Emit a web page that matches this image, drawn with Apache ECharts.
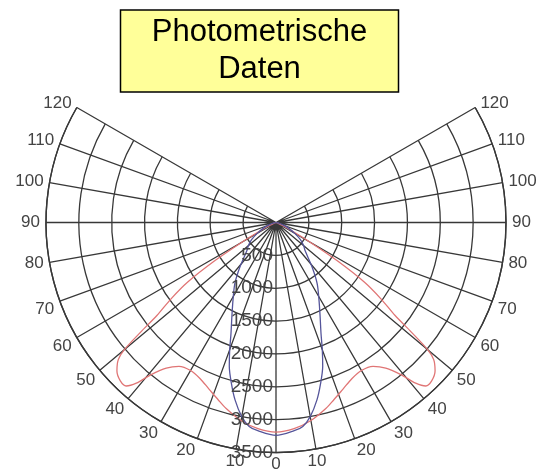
<!DOCTYPE html>
<html>
<head>
<meta charset="utf-8">
<script src="https://cdn.jsdelivr.net/npm/echarts@6/dist/echarts.min.js"></script>
<style>
html, body { margin: 0; padding: 0; background: #fff; }
#main { width: 539px; height: 470px; }
</style>
</head>
<body>
<div id="main"></div>
<script>
// Lichtstärke in cd, Winkel von der Senkrechten nach unten (nur eine Seite, wird gespiegelt)
var redAngles = [0, 5, 10, 15, 18, 22, 26, 30, 34, 37, 39.5, 41, 42.5, 44.5, 47, 49, 50, 51, 52, 54, 56, 58, 60, 62, 65, 70, 80, 90];
var redValues = [3190, 3150, 3060, 2930, 2840, 2730, 2640, 2600, 2640, 2775, 3010, 3240, 3375, 3380, 3310, 3180, 3020, 2650, 2300, 1970, 1620, 1100, 600, 300, 110, 30, 0, 0];

var blueAngles = [0, 5, 7.5, 10, 13, 15.5, 18, 20, 22, 25, 29, 34, 39, 46, 50, 55, 60, 65, 70, 75, 80, 90];
var blueValues = [3240, 3180, 3130, 3000, 2770, 2540, 2300, 2060, 1830, 1590, 1350, 1120, 875, 615, 550, 450, 330, 220, 130, 60, 20, 0];

var radiusTicks = [500, 1000, 1500, 2000, 2500, 3000, 3500];
var angleMax = 120;

// beide Seiten aus den Halbkurven aufbauen
function mirror(angles, values) {
	var out = [];
	for (var i = angles.length - 1; i > 0; i--) {
		out.push([values[i], -angles[i]]);
	}
	for (var j = 0; j < angles.length; j++) {
		out.push([values[j], angles[j]]);
	}
	return out;
}

var gridColor = '#383838';
var labelColor = '#444';
var labelFont = 'Liberation Sans, Arial, sans-serif';

var chart = echarts.init(document.getElementById('main'));

var option = {
	animation: false,
	title: {
		text: 'Photometrische\nDaten',
		left: 227.5,
		top: 10,
		textAlign: 'center',
		padding: [4, 32, 4, 32],
		backgroundColor: '#ffff99',
		borderColor: '#000',
		borderWidth: 1.5,
		textStyle: {
			fontFamily: labelFont,
			fontSize: 31,
			fontWeight: 'normal',
			color: '#000',
			lineHeight: 37
		}
	},
	polar: [
		{ center: [276, 222.5], radius: 230 },
		{ center: [276, 222.5], radius: 230 }
	],
	angleAxis: [
		{
			polarIndex: 0,
			type: 'value',
			min: -angleMax,
			max: angleMax,
			interval: 10,
			startAngle: 150,
			endAngle: 390,
			clockwise: false,
			axisLine: { show: true, lineStyle: { color: gridColor, width: 1.4 } },
			axisTick: { show: false },
			splitLine: { show: true, lineStyle: { color: gridColor, width: 1.3 } },
			axisLabel: {
				margin: 6,
				color: labelColor,
				fontSize: 17,
				lineHeight: 12,
				fontFamily: labelFont,
				formatter: function (v) {
					var a = Math.abs(v);
					// obere Beschriftungen etwas tiefer setzen
					return a >= 110 ? '{up|' + a + '}' : String(a);
				},
				rich: {
					up: { color: labelColor, fontSize: 17, fontFamily: labelFont, lineHeight: 2 }
				}
			}
		},
		{
			polarIndex: 1,
			type: 'value',
			min: 0,
			max: 360,
			startAngle: 270,
			show: false
		}
	],
	radiusAxis: [
		{
			polarIndex: 0,
			type: 'value',
			min: 0,
			max: 3500,
			interval: 500,
			axisLine: { show: false },
			axisTick: { show: false },
			axisLabel: { show: false },
			splitLine: { show: true, lineStyle: { color: gridColor, width: 1.3 } }
		},
		{
			polarIndex: 1,
			type: 'value',
			min: 0,
			max: 3500,
			interval: 500,
			z: 5,
			axisLine: { show: false },
			axisTick: { show: false },
			splitLine: { show: false },
			axisLabel: {
				margin: 0,
				align: 'right',
				verticalAlign: 'middle',
				padding: [0, 3, 0, 0],
				color: labelColor,
				fontSize: 19,
				fontFamily: labelFont,
				formatter: function (v) {
					return radiusTicks.indexOf(v) >= 0 ? String(v) : '';
				}
			}
		}
	],
	series: [
		{
			name: 'C0',
			type: 'line',
			coordinateSystem: 'polar',
			polarIndex: 0,
			data: mirror(redAngles, redValues),
			showSymbol: false,
			smooth: 0.3,
			lineStyle: { color: '#e07575', width: 1.3 }
		},
		{
			name: 'C90',
			type: 'line',
			coordinateSystem: 'polar',
			polarIndex: 0,
			data: mirror(blueAngles, blueValues),
			showSymbol: false,
			smooth: 0.3,
			lineStyle: { color: '#55559a', width: 1.3 }
		}
	]
};

chart.setOption(option);
</script>
</body>
</html>
